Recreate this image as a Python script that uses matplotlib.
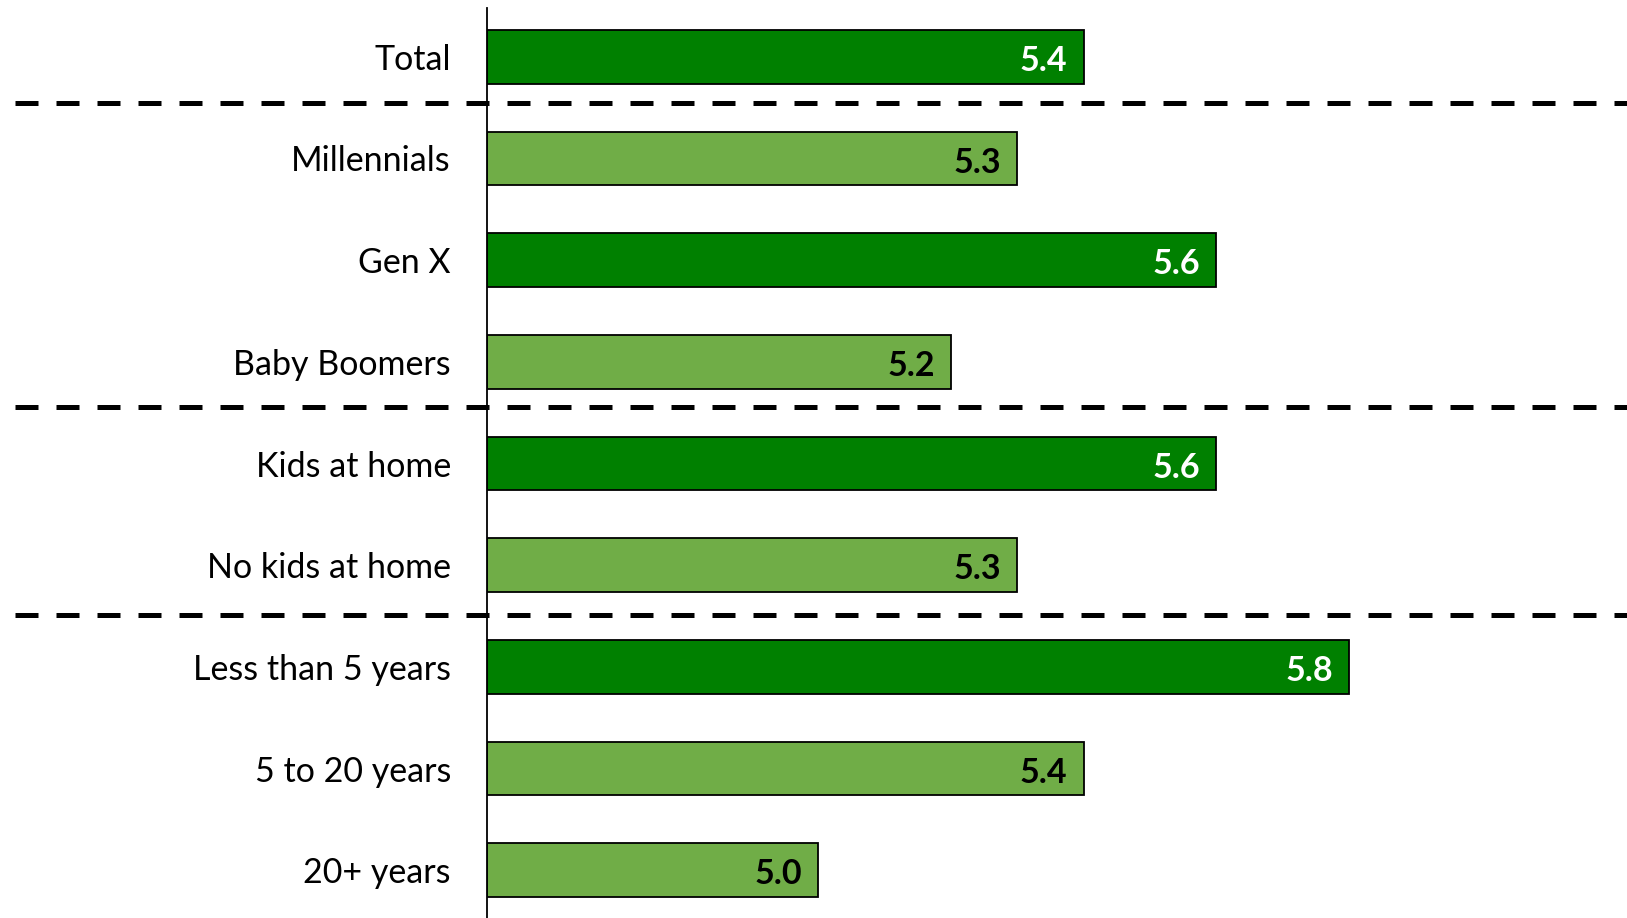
import numpy as np
import matplotlib.pyplot as plt

# survey groups, top to bottom
groups = ["Total", "Millennials", "Gen X", "Baby Boomers", "Kids at home",
          "No kids at home", "Less than 5 years", "5 to 20 years", "20+ years"]
scores = [5.4, 5.3, 5.6, 5.2, 5.6, 5.3, 5.8, 5.4, 5.0]
# dark bar = group that scores highest within its block
highlight = [True, False, True, False, True, False, True, False, False]
# separators between blocks (in row units)
separators = [0.45, 3.44, 5.49]

dark = "#008000"
light = "#70AD47"

plt.rcParams['font.family'] = ['Lato', 'DejaVu Sans']

fig = plt.figure(figsize=(16.27, 9.18), dpi=100)
ax = fig.add_axes([487 / 1627, 0.0, 1 - 487 / 1627, 1 - 8 / 918])

y = np.arange(len(groups))
colors = [dark if h else light for h in highlight]
x0 = 4.5
ax.barh(y, np.array(scores) - x0, left=x0, height=0.53, color=colors,
        edgecolor="black", linewidth=1.3, zorder=2)

for yi, v, h in zip(y, scores, highlight):
    ax.text(v - 0.024, yi + 0.04, f"{v:.1f}", ha="right", va="center",
            fontsize=24.5, fontweight="bold", color="white" if h else "black", zorder=3)

ax.set_xlim(x0, 6.22)
ax.set_ylim(8.47, -0.48)
ax.set_yticks(y)
ax.set_yticklabels(groups, fontsize=24.5)
ax.tick_params(axis="y", length=0, pad=26)
ax.set_xticks([])

for s in ["top", "right", "bottom"]:
    ax.spines[s].set_visible(False)
ax.spines["left"].set_linewidth(1.3)

# dashed block separators across the full width
for s in separators:
    yf = ax.transData.transform((x0, s))[1]
    yf = fig.transFigure.inverted().transform((0, yf))[1]
    line = plt.Line2D([15 / 1627, 1.0], [yf, yf], transform=fig.transFigure,
                      color="black", linewidth=3.6, dashes=(4.6, 3.6), zorder=5)
    fig.add_artist(line)

fig.savefig("out.png", dpi=100)
